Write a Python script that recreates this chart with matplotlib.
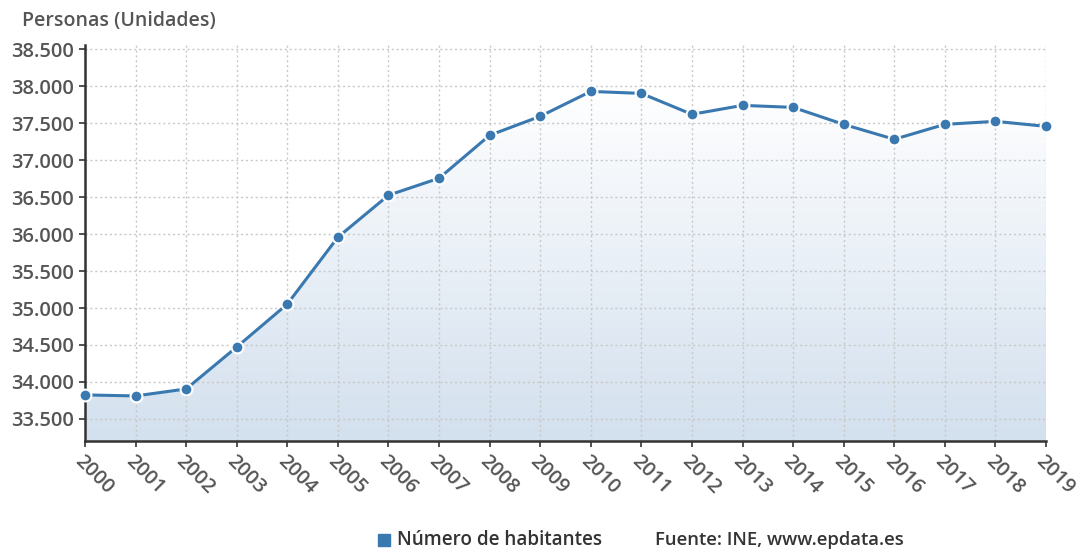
import matplotlib
matplotlib.use("Agg")
import matplotlib.pyplot as plt
import numpy as np
from matplotlib.ticker import FuncFormatter
from matplotlib.lines import Line2D
from matplotlib.colors import LinearSegmentedColormap

plt.rcParams['font.family'] = ['Open Sans', 'DejaVu Sans']
plt.rcParams['font.weight'] = 'semibold'

years = list(range(2000, 2020))
habitantes = [33824, 33810, 33905, 34473, 35054, 35959, 36527, 36757, 37338, 37595,
              37932, 37905, 37622, 37743, 37716, 37486, 37284, 37486, 37527, 37459]

line_color = '#3a78b0'
text_color = '#555555'

fig = plt.figure(figsize=(10.82, 5.49), dpi=100)
ax = fig.add_axes([0.0786, 0.1967, 0.8881, 0.7213])

ymin, ymax = 33200, 38560
ax.set_xlim(years[0], years[-1])
ax.set_ylim(ymin, ymax)

# gradient fill under line
cmap = LinearSegmentedColormap.from_list('g', ['#d3e0ee', '#ffffff'])
grad = np.linspace(0, 1, 256).reshape(-1, 1)
im = ax.imshow(grad, aspect='auto', cmap=cmap, origin='lower',
               extent=[years[0], years[-1], ymin, 38000], zorder=1)
poly = ax.fill_between(years, habitantes, ymin, color='none', lw=0)
path = poly.get_paths()[0]
im.set_clip_path(path, transform=ax.transData)

ax.plot(years, habitantes, color=line_color, lw=2.2, marker='o', markersize=8.5,
        markerfacecolor=line_color, markeredgecolor='white', markeredgewidth=1.5,
        zorder=3, clip_on=False)

ax.set_xticks(years)
ax.set_yticks(np.arange(33500, 38501, 500))
ax.yaxis.set_major_formatter(FuncFormatter(lambda v, p: f"{int(v):,}".replace(',', '.')))
ax.grid(True, color='#c8c8c8', linestyle=(0, (1.5, 2)), lw=1.0, zorder=0)

for s in ['top', 'right']:
    ax.spines[s].set_visible(False)
for s in ['left', 'bottom']:
    ax.spines[s].set_color('#333333')
    ax.spines[s].set_linewidth(1.8)
ax.tick_params(axis='both', colors='#333333', length=4, width=1.2,
               labelcolor=text_color, labelsize=14.5)
ax.tick_params(axis='y', pad=4)
for lbl in ax.get_xticklabels():
    lbl.set_rotation(-45)
    lbl.set_ha('left')
    lbl.set_va('top')
    lbl.set_rotation_mode('anchor')

fig.text(0.020, 0.962, 'Personas (Unidades)', color=text_color, fontsize=14, ha='left', va='center')

# legend
fig.lines.append(Line2D([0.3545], [0.016], marker='s', markersize=9, color=line_color,
                        linestyle='none', transform=fig.transFigure))
fig.text(0.3665, 0.016, 'Número de habitantes', color='#333333', fontsize=13.6, ha='left', va='center')
fig.text(0.605, 0.016, 'Fuente: INE, www.epdata.es', color='#333333', fontsize=13.3, ha='left', va='center')

fig.savefig('out.png', dpi=100)
